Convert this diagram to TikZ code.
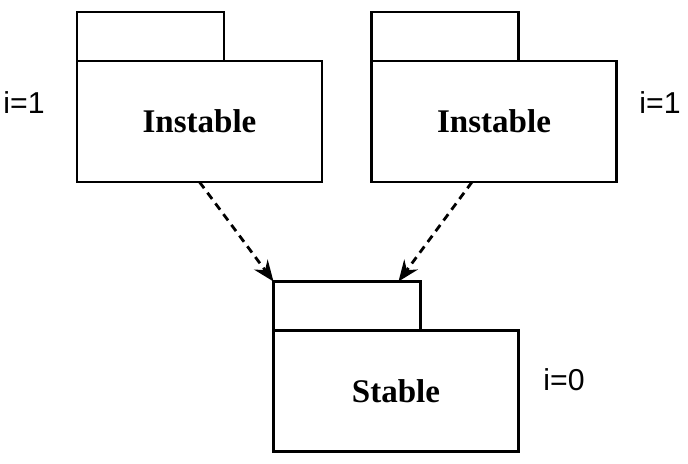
\documentclass[tikz,border=0pt]{standalone}
\usepackage{fontspec}
\setmainfont{Liberation Serif}
\newfontfamily\labelfont{Liberation Sans}
\usetikzlibrary{arrows.meta,positioning}

\tikzset{
  body/.style={draw, line width=2pt, minimum width=6.125cm, minimum height=3.025cm,
    inner sep=0pt, outer sep=0pt, font=\fontsize{23.5}{27}\selectfont\bfseries},
  tab/.style={draw, line width=2pt, minimum width=3.675cm, minimum height=1.225cm,
    inner sep=0pt, outer sep=0pt, anchor=south west},
  depends/.style={line width=2pt, dash pattern=on 5.5pt off 4pt,
    -{Stealth[length=15pt,width=12pt,inset=5pt]}},
  level/.style={font=\labelfont\fontsize{21.5}{24}\selectfont}
}

\begin{document}
\begin{tikzpicture}[x=0.025cm,y=-0.025cm]
\useasboundingbox (0,0) rectangle (688,464);

% Packages
\node[body] (left) at (199.5,121.5) {Instable};
\node[body] (right) at (494,121.5) {Instable};
\node[body] (stable) at (396,391) {Stable};

% Tabs
\foreach \p in {left, right, stable} {
    \node[tab] (\p tab) at (\p.north west) {};
}

% Instability values
\node[level] (ileft) at (24,103) {i=1};
\node[level] (iright) at (660,103) {i=1};
\node[level] (istable) at (564,380) {i=0};

% Dependencies
\coordinate (from1) at (left.south);
\coordinate (from2) at ([xshift=-0.55cm]right.south);
\coordinate (to1) at (stabletab.north west);
\coordinate (to2) at ([xshift=3.125cm]stabletab.north west);
\draw[depends] (from1) -- (to1);
\draw[depends] (from2) -- (to2);
\end{tikzpicture}
\end{document}
